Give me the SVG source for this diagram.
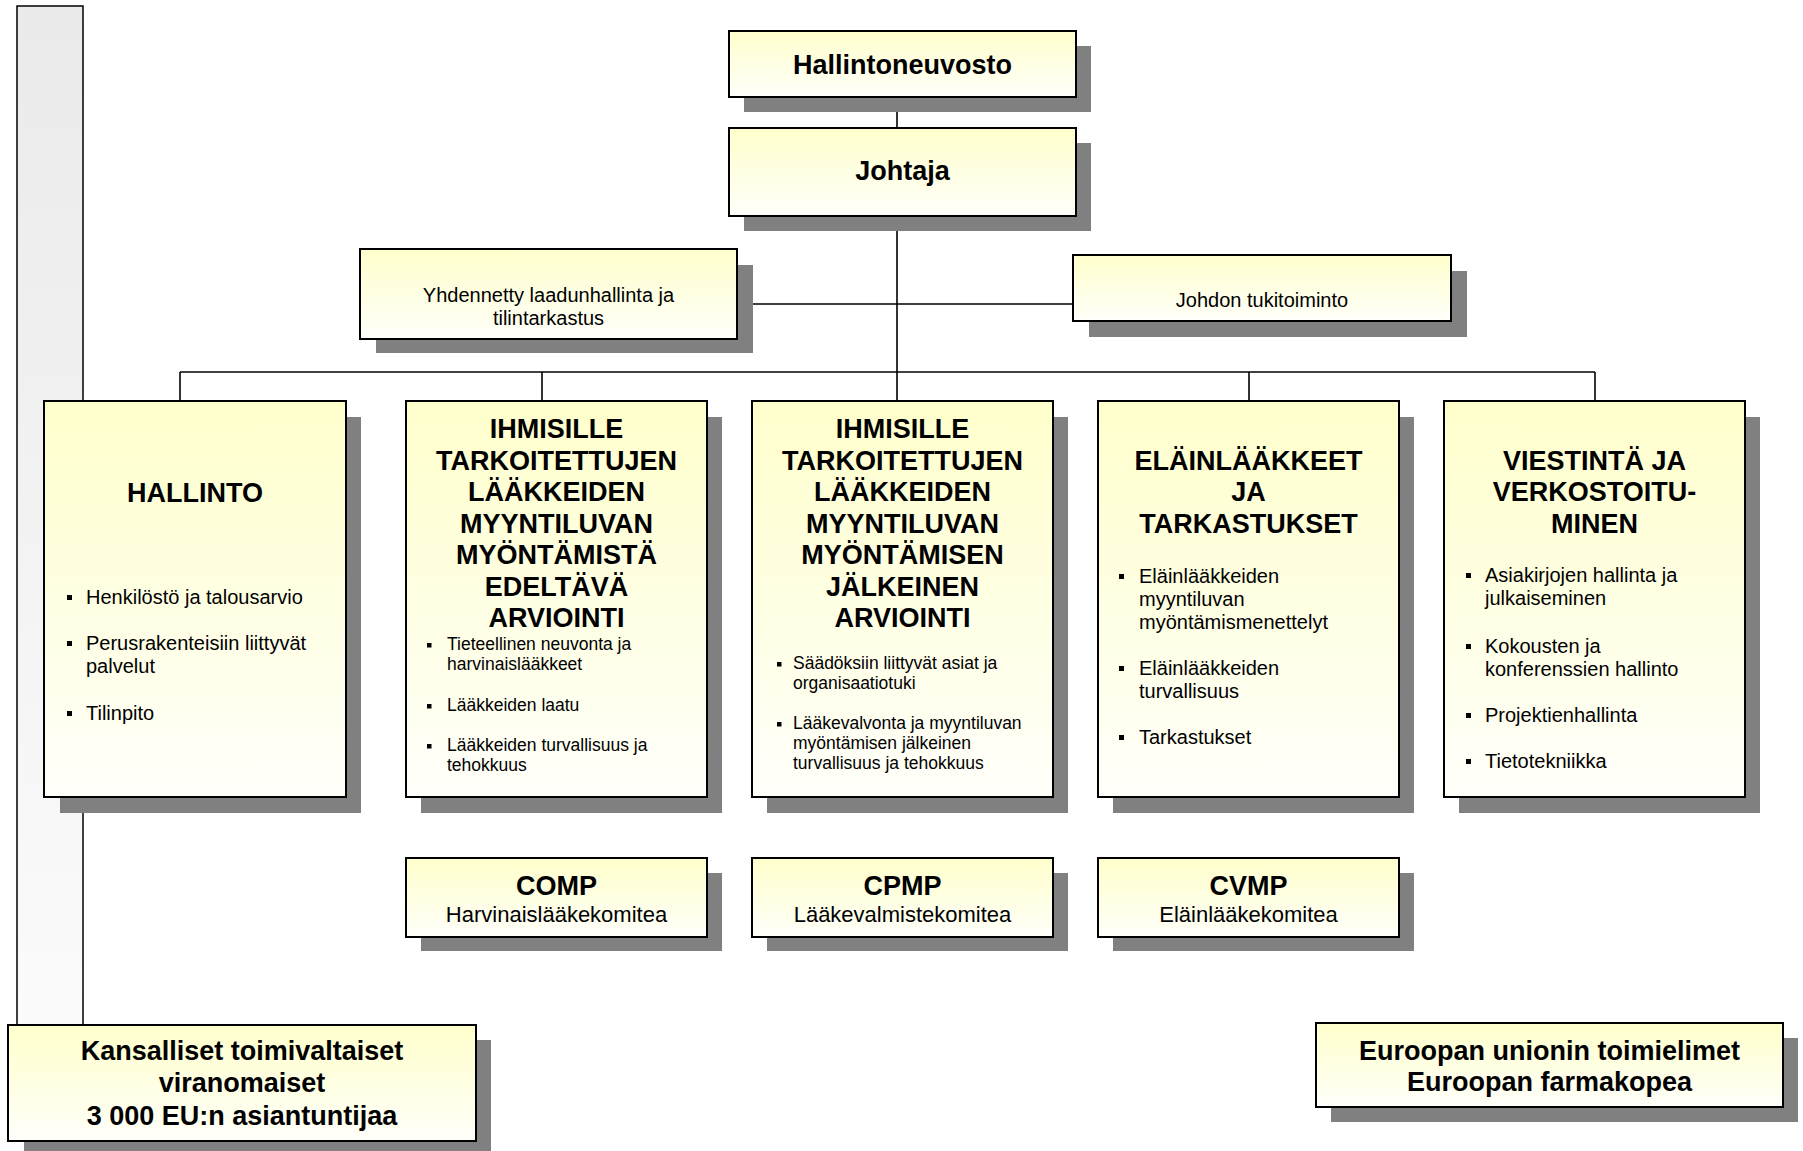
<svg xmlns="http://www.w3.org/2000/svg" width="1803" height="1151" viewBox="0 0 1803 1151">
<defs>
<linearGradient id="yel" x1="0" y1="0" x2="0" y2="1">
<stop offset="0" stop-color="#ffffcc"/>
<stop offset="1" stop-color="#fffffa"/>
</linearGradient>
<linearGradient id="gry" x1="0" y1="0" x2="0" y2="1">
<stop offset="0" stop-color="#eaeaea"/>
<stop offset="1" stop-color="#fbfbfb"/>
</linearGradient>
</defs>
<style>
text{font-family:"Liberation Sans",Arial,sans-serif;fill:#000}
.box{fill:url(#yel);stroke:#000;stroke-width:2}
.sh{fill:#808080}
.t{font-weight:bold;font-size:27px;text-anchor:middle}
.b20{font-size:20px}
.b175{font-size:17.5px}
.c{text-anchor:middle}
.bl{fill:#000}
.ln{stroke:#000;stroke-width:1.6;fill:none}
</style>
<rect id="bar" x="17" y="6" width="66" height="1019" fill="url(#gry)" stroke="#000" stroke-width="1.5"/>
<g id="connectors">
<line class="ln" x1="897" y1="97" x2="897" y2="128"/>
<line class="ln" x1="897" y1="216" x2="897" y2="401"/>
<line class="ln" x1="737" y1="304" x2="1073" y2="304"/>
<line class="ln" x1="180" y1="372" x2="1595" y2="372"/>
<line class="ln" x1="180" y1="372" x2="180" y2="401"/>
<line class="ln" x1="542" y1="372" x2="542" y2="401"/>
<line class="ln" x1="1249" y1="372" x2="1249" y2="401"/>
<line class="ln" x1="1595" y1="372" x2="1595" y2="401"/>
</g>
<g id="hallintoneuvosto">
<rect class="sh" x="744" y="46" width="347" height="66"/>
<rect class="box" x="729" y="31" width="347" height="66"/>
<text class="t" x="902.5" y="74">Hallintoneuvosto</text>
</g>
<g id="johtaja">
<rect class="sh" x="744" y="143" width="347" height="88"/>
<rect class="box" x="729" y="128" width="347" height="88"/>
<text class="t" x="902.5" y="180">Johtaja</text>
</g>
<g id="laadunhallinta">
<rect class="sh" x="376" y="265" width="377" height="88"/>
<rect class="box" x="360" y="249" width="377" height="90"/>
<text class="b20 c" x="548.5" y="302">Yhdennetty laadunhallinta ja</text>
<text class="b20 c" x="548.5" y="325">tilintarkastus</text>
</g>
<g id="tukitoiminto">
<rect class="sh" x="1089" y="271" width="378" height="66"/>
<rect class="box" x="1073" y="255" width="378" height="66"/>
<text class="b20 c" x="1262" y="307">Johdon tukitoiminto</text>
</g>
<g id="hallinto">
<rect class="sh" x="60" y="417" width="301" height="396"/>
<rect class="box" x="44" y="401" width="302" height="396"/>
<text class="t" x="195" y="502">HALLINTO</text>
<rect class="bl" x="67" y="595" width="5" height="5"/>
<text class="b20" x="86" y="604">Henkilöstö ja talousarvio</text>
<rect class="bl" x="67" y="641" width="5" height="5"/>
<text class="b20" x="86" y="650">Perusrakenteisiin liittyvät</text>
<text class="b20" x="86" y="673">palvelut</text>
<rect class="bl" x="67" y="711" width="5" height="5"/>
<text class="b20" x="86" y="720">Tilinpito</text>
</g>
<g id="ennen">
<rect class="sh" x="421" y="417" width="301" height="396"/>
<rect class="box" x="406" y="401" width="301" height="396"/>
<text class="t" x="556.5" y="438">IHMISILLE</text>
<text class="t" x="556.5" y="469.5">TARKOITETTUJEN</text>
<text class="t" x="556.5" y="501">LÄÄKKEIDEN</text>
<text class="t" x="556.5" y="532.5">MYYNTILUVAN</text>
<text class="t" x="556.5" y="564">MYÖNTÄMISTÄ</text>
<text class="t" x="556.5" y="595.5">EDELTÄVÄ</text>
<text class="t" x="556.5" y="627">ARVIOINTI</text>
<rect class="bl" x="427" y="643" width="4.5" height="4.5"/>
<text class="b175" x="447" y="650">Tieteellinen neuvonta ja</text>
<text class="b175" x="447" y="670">harvinaislääkkeet</text>
<rect class="bl" x="427" y="704" width="4.5" height="4.5"/>
<text class="b175" x="447" y="711">Lääkkeiden laatu</text>
<rect class="bl" x="427" y="744" width="4.5" height="4.5"/>
<text class="b175" x="447" y="751">Lääkkeiden turvallisuus ja</text>
<text class="b175" x="447" y="771">tehokkuus</text>
</g>
<g id="jalkeen">
<rect class="sh" x="767" y="417" width="301" height="396"/>
<rect class="box" x="752" y="401" width="301" height="396"/>
<text class="t" x="902.5" y="438">IHMISILLE</text>
<text class="t" x="902.5" y="469.5">TARKOITETTUJEN</text>
<text class="t" x="902.5" y="501">LÄÄKKEIDEN</text>
<text class="t" x="902.5" y="532.5">MYYNTILUVAN</text>
<text class="t" x="902.5" y="564">MYÖNTÄMISEN</text>
<text class="t" x="902.5" y="595.5">JÄLKEINEN</text>
<text class="t" x="902.5" y="627">ARVIOINTI</text>
<rect class="bl" x="777" y="662" width="4.5" height="4.5"/>
<text class="b175" x="793" y="669">Säädöksiin liittyvät asiat ja</text>
<text class="b175" x="793" y="689">organisaatiotuki</text>
<rect class="bl" x="777" y="722" width="4.5" height="4.5"/>
<text class="b175" x="793" y="729">Lääkevalvonta ja myyntiluvan</text>
<text class="b175" x="793" y="749">myöntämisen jälkeinen</text>
<text class="b175" x="793" y="769">turvallisuus ja tehokkuus</text>
</g>
<g id="elainlaakkeet">
<rect class="sh" x="1113" y="417" width="301" height="396"/>
<rect class="box" x="1098" y="401" width="301" height="396"/>
<text class="t" x="1248.5" y="469.5">ELÄINLÄÄKKEET</text>
<text class="t" x="1248.5" y="501">JA</text>
<text class="t" x="1248.5" y="532.5">TARKASTUKSET</text>
<rect class="bl" x="1119" y="574" width="5" height="5"/>
<text class="b20" x="1139" y="583">Eläinlääkkeiden</text>
<text class="b20" x="1139" y="606">myyntiluvan</text>
<text class="b20" x="1139" y="629">myöntämismenettelyt</text>
<rect class="bl" x="1119" y="666" width="5" height="5"/>
<text class="b20" x="1139" y="675">Eläinlääkkeiden</text>
<text class="b20" x="1139" y="698">turvallisuus</text>
<rect class="bl" x="1119" y="735" width="5" height="5"/>
<text class="b20" x="1139" y="744">Tarkastukset</text>
</g>
<g id="viestinta">
<rect class="sh" x="1459" y="417" width="301" height="396"/>
<rect class="box" x="1444" y="401" width="301" height="396"/>
<text class="t" x="1594.5" y="469.5">VIESTINTÄ JA</text>
<text class="t" x="1594.5" y="501">VERKOSTOITU-</text>
<text class="t" x="1594.5" y="532.5">MINEN</text>
<rect class="bl" x="1466" y="573" width="5" height="5"/>
<text class="b20" x="1485" y="582">Asiakirjojen hallinta ja</text>
<text class="b20" x="1485" y="605">julkaiseminen</text>
<rect class="bl" x="1466" y="644" width="5" height="5"/>
<text class="b20" x="1485" y="653">Kokousten ja</text>
<text class="b20" x="1485" y="676">konferenssien hallinto</text>
<rect class="bl" x="1466" y="713" width="5" height="5"/>
<text class="b20" x="1485" y="722">Projektienhallinta</text>
<rect class="bl" x="1466" y="759" width="5" height="5"/>
<text class="b20" x="1485" y="768">Tietotekniikka</text>
</g>
<g id="comp">
<rect class="sh" x="421" y="873" width="301" height="78"/>
<rect class="box" x="406" y="858" width="301" height="79"/>
<text class="t" x="556.5" y="895">COMP</text>
<text class="c" x="556.5" y="922" font-size="22">Harvinaislääkekomitea</text>
</g>
<g id="cpmp">
<rect class="sh" x="767" y="873" width="301" height="78"/>
<rect class="box" x="752" y="858" width="301" height="79"/>
<text class="t" x="902.5" y="895">CPMP</text>
<text class="c" x="902.5" y="922" font-size="22">Lääkevalmistekomitea</text>
</g>
<g id="cvmp">
<rect class="sh" x="1113" y="873" width="301" height="78"/>
<rect class="box" x="1098" y="858" width="301" height="79"/>
<text class="t" x="1248.5" y="895">CVMP</text>
<text class="c" x="1248.5" y="922" font-size="22">Eläinlääkekomitea</text>
</g>
<g id="kansalliset">
<rect class="sh" x="24" y="1040" width="467" height="116"/>
<rect class="box" x="8" y="1025" width="468" height="116"/>
<text class="t" x="242" y="1060" font-size="26.5">Kansalliset toimivaltaiset</text>
<text class="t" x="242" y="1092" font-size="26.5">viranomaiset</text>
<text class="t" x="242" y="1125" font-size="26.5">3 000 EU:n asiantuntijaa</text>
</g>
<g id="euroopan">
<rect class="sh" x="1331" y="1038" width="467" height="84"/>
<rect class="box" x="1316" y="1023" width="467" height="84"/>
<text class="t" x="1549.5" y="1060">Euroopan unionin toimielimet</text>
<text class="t" x="1549.5" y="1091">Euroopan farmakopea</text>
</g>
</svg>
